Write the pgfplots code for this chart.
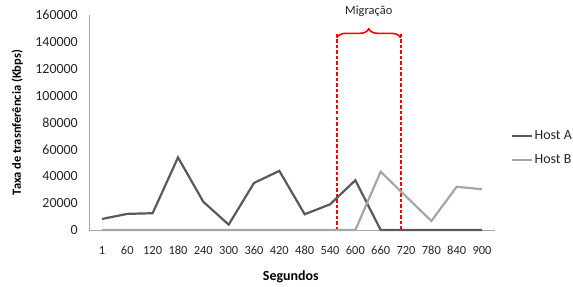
\documentclass[border=0pt]{standalone}
\usepackage{pgfplots}
\pgfplotsset{compat=1.18}
\usepackage{fontspec}
\setmainfont{Carlito}
\usetikzlibrary{decorations.pathreplacing}
\definecolor{hosta}{HTML}{595959}
\definecolor{hostb}{HTML}{A6A6A6}
\definecolor{txt}{HTML}{262626}
\definecolor{axisgray}{HTML}{A6A6A6}
\definecolor{migred}{HTML}{FF0000}
\begin{document}
\begin{tikzpicture}[x=1bp,y=1bp]
\useasboundingbox (0,0) rectangle (573,286);
\begin{axis}[
  at={(89.3bp,56bp)}, anchor=south west,
  scale only axis, width=405.4bp, height=215bp,
  xmin=-0.5, xmax=15.5, ymin=0, ymax=160000,
  xtick={0,...,15},
  xticklabels={1,60,120,180,240,300,360,420,480,540,600,660,720,780,840,900},
  ytick={0,20000,...,160000},
  scaled y ticks=false,
  /pgf/number format/assume math mode=true,
  yticklabel={\pgfmathprintnumber[fixed,precision=0,1000 sep={}]{\tick}},
  axis x line*=bottom, axis y line*=left,
  axis line style={axisgray, line width=0.8bp},
  x axis line style={-}, y axis line style={-},
  tick style={draw=none},
  xticklabel style={font=\fontsize{12.5}{13}\selectfont, text=txt, anchor=center, yshift=-20bp},
  yticklabel style={font=\fontsize{14}{14}\selectfont, text=txt, xshift=-8bp},
  xlabel={\textbf{Segundos}},
  xlabel style={font=\fontsize{14}{14}\selectfont, text=black, at={(axis description cs:0.497,0)}, anchor=center, yshift=-47bp},
  ylabel={\textbf{Taxa de trasnferência (Kbps)}},
  ylabel style={font=\fontsize{12.5}{13}\selectfont, text=black, at={(axis description cs:-0.178,0.5)}, anchor=center, rotate=0},
  clip=false,
  unbounded coords=jump,
  legend style={draw=none, fill=none, at={(axis description cs:1.0,0.48)}, anchor=north west, font=\fontsize{14}{14}\selectfont, text=txt, row sep=9bp, xshift=13bp, nodes={inner xsep=1.5bp}},
  legend cell align=left,
  legend image code/.code={\draw[#1, line width=2.2bp] (0bp,0bp) -- (20bp,0bp);},
]
\addplot[draw=migred, color=migred, line width=1.6bp, dash pattern=on 3.5bp off 2bp, forget plot] coordinates {(9.27,0) (9.27,146000) (nan,nan) (11.79,146000) (11.79,0)};
\addplot[hosta, line width=2.2bp] coordinates {
(0,8200) (1,12000) (2,12500) (3,54000) (4,21000) (5,4000) (6,35000) (7,44000)
(8,11700) (9,19100) (10,37000) (11,0) (12,0) (13,0) (14,0) (15,0)};
\addlegendentry{Host A}
\addplot[hostb, line width=2.2bp] coordinates {
(0,0) (1,0) (2,0) (3,0) (4,0) (5,0) (6,0) (7,0)
(8,0) (9,0) (10,0) (11,43400) (12,25000) (13,6700) (14,32200) (15,30300)};
\addlegendentry{Host B}
\draw[draw=migred, line width=1.6bp, decorate, decoration={brace, amplitude=9bp}] (axis cs:9.27,143000) -- (axis cs:11.79,143000);
\node[font=\fontsize{12.5}{13}\selectfont, text=txt] at (axis cs:10.53,162500) {Migração};
\end{axis}
\end{tikzpicture}
\end{document}
